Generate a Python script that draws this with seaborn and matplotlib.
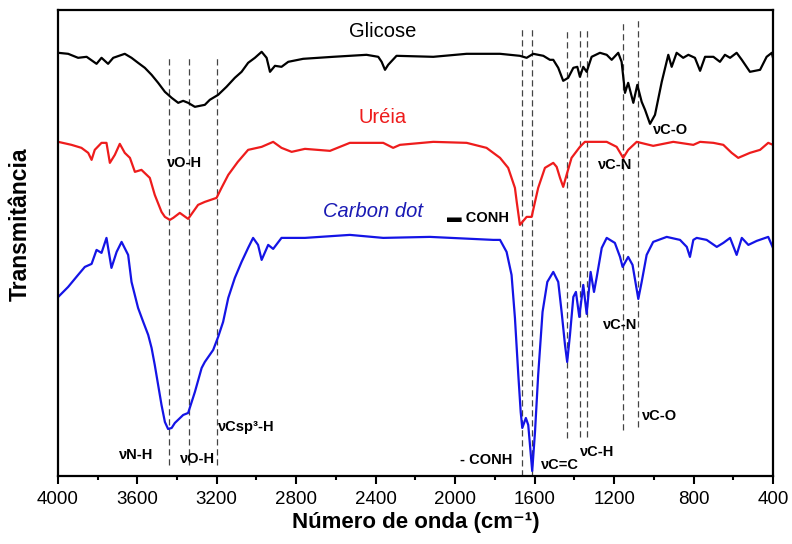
import numpy as np
import pandas as pd
import seaborn as sns
import matplotlib.pyplot as plt
from matplotlib.ticker import MultipleLocator

# wavenumbers (cm-1) and transmittance (a.u., stacked)
glicose_w = [3998, 3948, 3898, 3855, 3805, 3780, 3747, 3721, 3663, 3629, 3596, 3562, 3528, 3495,
             3461, 3427, 3394, 3369, 3344, 3310, 3260, 3235, 3193, 3151, 3109, 3075, 3042, 3008,
             2974, 2949, 2932, 2907, 2874, 2840, 2765, 2614, 2446, 2387, 2370, 2353, 2337, 2295,
             2110, 1942, 1774, 1674, 1640, 1607, 1556, 1523, 1506, 1481, 1456, 1431, 1405, 1385,
             1372, 1355, 1338, 1313, 1271, 1237, 1212, 1179, 1162, 1145, 1129, 1103, 1083, 1061,
             1044, 1019, 994, 960, 927, 910, 885, 852, 826, 793, 767, 742, 700, 667, 642, 616,
             583, 557, 516, 465, 432, 406, 400]
glicose_t = [423, 422, 418, 419, 412, 418, 412, 418, 422, 418, 413, 408, 401, 393,
             384, 378, 373, 375, 373, 369, 371, 376, 381, 389, 398, 404, 413, 418,
             424, 418, 404, 410, 409, 414, 417, 419, 421, 419, 414, 406, 411, 420,
             419, 422, 422, 420, 418, 422, 420, 416, 416, 408, 395, 398, 408, 409,
             399, 409, 404, 419, 423, 421, 416, 423, 414, 383, 393, 373, 391, 374,
             366, 352, 361, 394, 421, 409, 423, 418, 421, 418, 405, 419, 419, 414, 421, 418,
             423, 416, 404, 406, 419, 423, 418]

ureia_w = [3998, 3931, 3881, 3847, 3830, 3814, 3780, 3755, 3738, 3713, 3688, 3663, 3637, 3612,
           3579, 3537, 3512, 3478, 3461, 3436, 3419, 3386, 3344, 3294, 3260, 3201, 3176, 3142,
           3094, 3042, 2974, 2916, 2874, 2823, 2756, 2630, 2530, 2362, 2312, 2278, 2110, 1942,
           1842, 1774, 1733, 1699, 1690, 1674, 1640, 1615, 1598, 1582, 1548, 1506, 1489, 1472,
           1456, 1439, 1414, 1372, 1347, 1237, 1187, 1154, 1129, 1086, 1003, 902, 801, 767,
           700, 650, 608, 575, 516, 465, 424, 400]
ureia_t = [334, 331, 328, 323, 316, 326, 333, 333, 313, 321, 332, 323, 318, 304,
           306, 298, 281, 264, 259, 256, 258, 263, 257, 271, 274, 278, 288, 301,
           314, 326, 329, 334, 328, 324, 327, 325, 333, 333, 328, 331, 334, 333,
           328, 318, 308, 288, 274, 251, 259, 259, 274, 288, 308, 313, 309, 298,
           289, 301, 318, 329, 334, 334, 329, 318, 326, 334, 330, 334, 331, 334,
           333, 331, 323, 318, 323, 326, 333, 331]

cdot_w = [3998, 3948, 3898, 3864, 3830, 3805, 3780, 3755, 3730, 3704, 3679, 3646, 3629, 3596,
          3570, 3545, 3528, 3512, 3495, 3478, 3461, 3445, 3427, 3411, 3369, 3344, 3310, 3276,
          3260, 3218, 3193, 3168, 3142, 3109, 3075, 3042, 3017, 2992, 2974, 2941, 2916, 2874,
          2756, 2530, 2362, 2127, 1808, 1774, 1741, 1716, 1699, 1682, 1670, 1662, 1644, 1632,
          1612, 1598, 1582, 1560, 1536, 1506, 1481, 1464, 1447, 1436, 1422, 1405, 1392, 1375,
          1355, 1338, 1318, 1301, 1288, 1262, 1237, 1196, 1170, 1157, 1129, 1107, 1078, 1061,
          1036, 1003, 935, 868, 834, 818, 801, 784, 734, 683, 650, 616, 583, 557, 524, 482,
          424, 400]
cdot_t = [179, 189, 201, 209, 212, 226, 223, 238, 208, 224, 234, 221, 194, 168,
          154, 141, 128, 111, 91, 71, 54, 47, 48, 53, 61, 63, 84, 108,
          114, 126, 139, 154, 178, 198, 214, 228, 238, 231, 216, 231, 227, 238,
          238, 241, 238, 239, 236, 236, 224, 201, 158, 101, 64, 48, 58, 51,
          5, 44, 101, 164, 194, 204, 194, 164, 131, 114, 141, 179, 184, 159,
          191, 162, 204, 184, 198, 228, 238, 233, 219, 209, 219, 211, 177, 194,
          221, 234, 239, 236, 229, 219, 236, 238, 236, 229, 233, 238, 221, 238, 231, 235,
          239, 228]

names = ["Glicose", "Uréia", "Carbon dot"]
colors = ["black", "#ee1c1c", "#1414e6"]

# band assignment guide lines: wavenumber, bottom, top
band_w = [3440, 3340, 3200, 1662, 1612, 1436, 1373, 1338, 1157, 1078]
band_lo = [11, 11, 11, 0, 0, 38, 39, 39, 46, 49]
band_hi = [419, 419, 419, 448, 448, 446, 446, 446, 453, 457]

df = pd.concat([
    pd.DataFrame({"w": glicose_w, "t": glicose_t, "amostra": names[0]}),
    pd.DataFrame({"w": ureia_w, "t": ureia_t, "amostra": names[1]}),
    pd.DataFrame({"w": cdot_w, "t": cdot_t, "amostra": names[2]}),
])

sns.set_style("ticks")
plt.rcParams['font.family'] = ['Liberation Sans', 'DejaVu Sans']
plt.rcParams['text.color'] = 'black'
plt.rcParams['axes.labelcolor'] = 'black'
plt.rcParams['xtick.color'] = 'black'

fig = plt.figure(figsize=(7.92, 5.44), dpi=100)
ax = fig.add_axes([0.073, 0.125, 0.903, 0.857])

for w, lo, hi in zip(band_w, band_lo, band_hi):
    ax.plot([w, w], [lo, hi], color="#444444", lw=0.9, ls=(0, (5, 3)), zorder=1)

sns.lineplot(data=df, x="w", y="t", hue="amostra", palette=dict(zip(names, colors)),
             estimator=None, sort=False, lw=1.6, legend=False, ax=ax, zorder=2)

ax.set_xlim(4000, 400)
ax.set_ylim(0, 466)
ax.xaxis.set_major_locator(MultipleLocator(400))
ax.xaxis.set_minor_locator(MultipleLocator(200))
ax.set_yticks([])
ax.tick_params(axis="x", which="major", length=6, width=1.5, labelsize=13.5, pad=5, direction="out")
ax.tick_params(axis="x", which="minor", length=3, width=1.5, direction="out")
for s in ax.spines.values():
    s.set_linewidth(1.6)
    s.set_color("black")

ax.set_xlabel("Número de onda (cm⁻¹)", fontsize=16, fontweight="bold")
ax.set_ylabel("Transmitância", fontsize=16.5, fontweight="bold")
ax.xaxis.set_label_coords(0.5, -0.078)
ax.yaxis.set_label_coords(-0.037, 0.54)

# sample names
ax.text(2364, 444, names[0], color=colors[0], fontsize=14.5, ha="center", va="center")
ax.text(2364, 358, names[1], color=colors[1], fontsize=14.5, ha="center", va="center")
ax.text(2414, 264, names[2], color="#1a1ab4", fontsize=14.5, style="italic", ha="center", va="center")

# band labels
labels = [("νO-H", 3361, 313), ("νC-O", 918, 346), ("νC-N", 1196, 311), ("▬ CONH", 1885, 258),
          ("νN-H", 3607, 21), ("νO-H", 3295, 17), ("νCsp³-H", 3053, 49), ("- CONH", 1845, 16),
          ("νC=C", 1472, 11), ("νC-H", 1286, 24), ("νC-N", 1170, 151), ("νC-O", 969, 60)]
for txt, x, y in labels:
    ax.text(x, y, txt, fontsize=10.5, fontweight="bold", ha="center", va="center")

fig.savefig("out.png", dpi=100)
